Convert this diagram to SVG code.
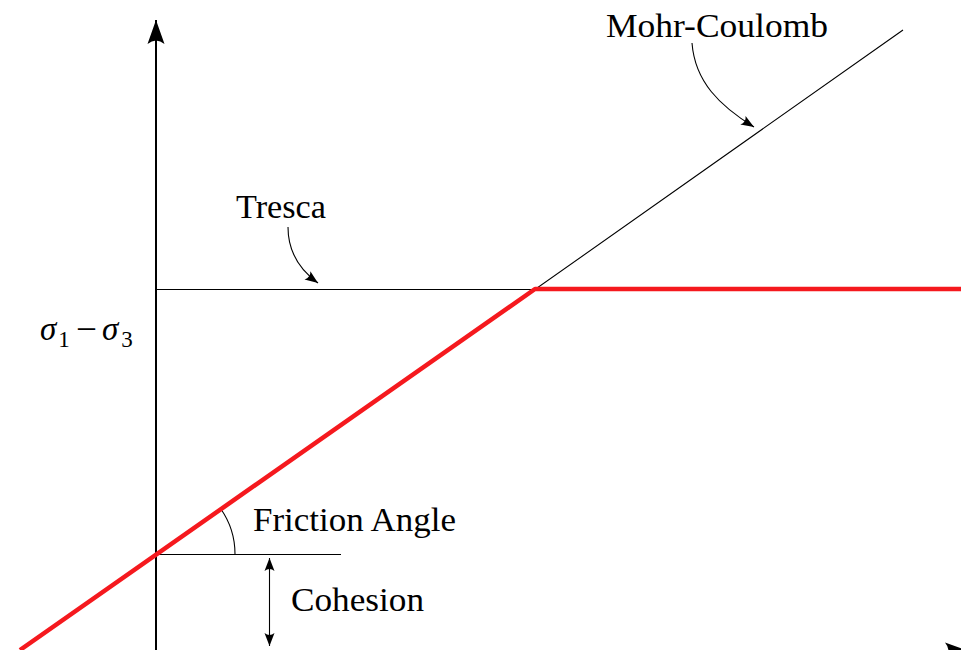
<svg xmlns="http://www.w3.org/2000/svg" width="961" height="650" viewBox="0 0 961 650">
<style>
text{font-family:"Liberation Serif","Times New Roman",serif;font-size:33px;fill:#000}
.thin{stroke:#000;stroke-width:1.1;fill:none}
.axis{stroke:#000;stroke-width:2;fill:none}
.red{stroke:#f5191e;stroke-width:4.5;fill:none;stroke-linejoin:round}
</style>
<defs>
<marker id="big" markerUnits="userSpaceOnUse" viewBox="-25 -9 27 18" refX="0" refY="0" markerWidth="27" markerHeight="18" orient="auto">
<path d="M0,0 L-24,-8.5 Q-17,0 -24,8.5 Z" fill="#000"/>
</marker>
<marker id="small" markerUnits="userSpaceOnUse" viewBox="-14 -6 16 12" refX="0" refY="0" markerWidth="16" markerHeight="12" orient="auto-start-reverse">
<path d="M0,0 L-13,-5 Q-9,0 -13,5 Z" fill="#000"/>
</marker>
</defs>
<g id="axes">
<path class="axis" d="M156,650 V20" marker-end="url(#big)"/>
<path class="axis" d="M150,651 H969" marker-end="url(#big)"/>
</g>
<g id="lines">
<path class="thin" d="M156,289.5 H535 L903,30"/>
<path class="thin" d="M156,554.5 H341"/>
<path class="thin" d="M220.7,508.7 A79,79 0 0 1 235,554"/>
<path class="red" d="M20,650 L535,289 H961"/>
</g>
<g id="connectors">
<path class="thin" d="M288,227 C288,252 300,270 318,283" marker-end="url(#small)"/>
<path class="thin" d="M692,43 C695,82 720,106 754,127" marker-end="url(#small)"/>
<path class="thin" d="M269.5,558 V646" marker-start="url(#small)" marker-end="url(#small)"/>
</g>
<g id="labels">
<text x="606" y="37" textLength="222" lengthAdjust="spacingAndGlyphs">Mohr-Coulomb</text>
<text x="236" y="218" textLength="90" lengthAdjust="spacingAndGlyphs">Tresca</text>
<text x="253" y="531" textLength="203" lengthAdjust="spacingAndGlyphs">Friction Angle</text>
<text x="291" y="611" textLength="133" lengthAdjust="spacingAndGlyphs">Cohesion</text>
<text x="40" y="340"><tspan font-style="italic">σ</tspan><tspan font-size="23" dy="7" dx="2">1</tspan><tspan dy="-7" x="76" textLength="21" lengthAdjust="spacingAndGlyphs">−</tspan><tspan font-style="italic" x="102">σ</tspan><tspan font-size="23" dy="7" dx="3">3</tspan></text>
</g>
</svg>
